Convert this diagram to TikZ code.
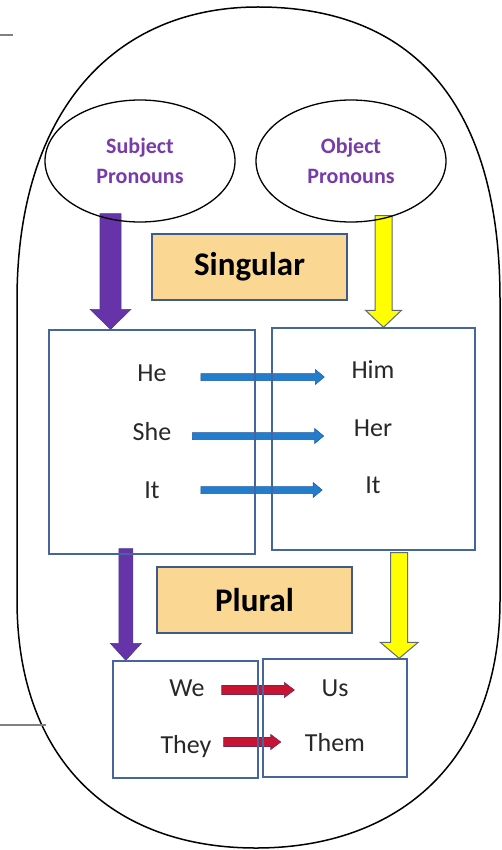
\documentclass[tikz,border=0pt]{standalone}
\usepackage{fontspec}
\setmainfont{Carlito}
\usetikzlibrary{shapes.geometric,calc,backgrounds}

\definecolor{pronpurple}{RGB}{120,60,170}
\definecolor{arrpurple}{RGB}{102,51,168}
\definecolor{arrpurpleedge}{RGB}{75,60,150}
\definecolor{arryellow}{RGB}{255,255,0}
\definecolor{arryellowedge}{RGB}{95,105,115}
\definecolor{arrblue}{RGB}{35,125,205}
\definecolor{arrblueedge}{RGB}{30,90,160}
\definecolor{arrred}{RGB}{200,20,50}
\definecolor{arrrededge}{RGB}{110,40,90}
\definecolor{boxblue}{RGB}{70,100,160}
\definecolor{headfill}{RGB}{250,216,148}
\definecolor{headedge}{RGB}{65,90,140}
\definecolor{wordgrey}{RGB}{40,40,40}

% block arrow: style, from, to, shaft half width, head half width, head length
\newcommand{\blockarrow}[6]{%
  \coordinate (ba-h) at ($(#3)!#6!(#2)$);
  \filldraw[#1] ($(#2)!#4!90:(#3)$) -- ($(ba-h)!#4!90:(#3)$) -- ($(ba-h)!#5!90:(#3)$)
    -- (#3) -- ($(ba-h)!#5!-90:(#3)$) -- ($(ba-h)!#4!-90:(#3)$) -- ($(#2)!#4!-90:(#3)$) -- cycle;}

\begin{document}
\begin{tikzpicture}[x=1pt,y=-1pt,
    pron/.style={ellipse,draw,line width=1.3pt,minimum width=190pt,minimum height=122pt,
      inner sep=0pt,text=pronpurple,align=center,font=\fontsize{22}{30}\selectfont\bfseries},
    caseframe/.style={draw=boxblue,line width=1.4pt,inner sep=0pt},
    numbox/.style={draw=headedge,line width=1.4pt,fill=headfill,inner sep=0pt,
      minimum width=195pt,minimum height=66pt,font=\fontsize{33}{40}\selectfont\bfseries},
    word/.style={text=wordgrey,text height=17pt,text depth=0pt,inner sep=0pt,
      font=\fontsize{26}{30}\selectfont},
    subjarrow/.style={fill=arrpurple,draw=arrpurpleedge,line width=0.6pt},
    objarrow/.style={fill=arryellow,draw=arryellowedge,line width=1pt},
    singarrow/.style={fill=arrblue,draw=arrblueedge,line width=0.5pt},
    plurarrow/.style={fill=arrred,draw=arrrededge,line width=0.6pt}]
\useasboundingbox (0,0) rectangle (502,850);

% outer outline
\draw[line width=1.5pt] (17,600) -- (17,300) .. controls (17,110) and (115,7) .. (258,7)
  .. controls (410,7) and (500,100) .. (500,300) -- (500,600)
  .. controls (500,760) and (400,848) .. (256,848)
  .. controls (112,848) and (17,760) .. (17,600) -- cycle;
\draw[gray,line width=1.2pt] (0,35) -- (13,35);
\draw[gray,line width=1.2pt] (0,725) -- (46,725);

% pronoun groups
\node[pron] (subj) at (140,161) {Subject\\Pronouns};
\node[pron] (obj) at (351,161) {Object\\Pronouns};

\node[numbox] (sing) at (249.5,267) {Singular};
\node[numbox] (plur) at (254.5,600) {Plural};

% singular frames
\node[caseframe,minimum width=206pt,minimum height=224pt] (subjsing) at (152,442) {};
\node[caseframe,minimum width=203pt,minimum height=222pt] (objsing) at (373.5,439) {};
\node[word] (he) at (152,373) {He};
\node[word] (she) at (152,432) {She};
\node[word] (it) at (152,490) {It};
\node[word] (him) at (373,370) {Him};
\node[word] (her) at (373,428) {Her};
\node[word] (ito) at (373,485) {It};

% plural frames
\node[caseframe,minimum width=145pt,minimum height=117pt] (subjplur) at (185.5,719.5) {};
\node[caseframe,minimum width=144pt,minimum height=118pt] (objplur) at (335,718) {};
\node[word] (we) at (187,688) {We};
\node[word] (they) at (186,745) {They};
\node[word] (us) at (335,688) {Us};
\node[word] (them) at (335,743) {Them};

\begin{scope}[on background layer]
  \coordinate (sa-s) at ($(subj.south)+(-29.5,-9)$);
  \coordinate (sa-e) at (sa-s |- subjsing.north);
  \blockarrow{subjarrow}{sa-s}{sa-e}{10.5pt}{20.5pt}{20pt}
  \coordinate (oa-s) at ($(obj.south)+(32.5,-7)$);
  \coordinate (oa-e) at (oa-s |- objsing.north);
  \blockarrow{objarrow}{oa-s}{oa-e}{8.5pt}{18pt}{17pt}
  \coordinate (sb-s) at ($(subjsing.south west)+(77.5,-6)$);
  \coordinate (sb-e) at (sb-s |- subjplur.north);
  \blockarrow{subjarrow}{sb-s}{sb-e}{7pt}{15.5pt}{17pt}
  \coordinate (ob-s) at ($(objsing.south east)+(-76.5,2)$);
  \coordinate (ob-e) at (ob-s |- objplur.north);
  \blockarrow{objarrow}{ob-s}{ob-e}{8.5pt}{19pt}{16pt}

  \coordinate (he-s) at ($(he.east)+(34,4)$);
  \coordinate (he-e) at ($(him.west |- he-s)+(-27,0)$);
  \blockarrow{singarrow}{he-s}{he-e}{3.5pt}{7.5pt}{9pt}
  \coordinate (she-s) at ($(she.east)+(21,4)$);
  \coordinate (she-e) at ($(her.west |- she-s)+(-30,0)$);
  \blockarrow{singarrow}{she-s}{she-e}{3.5pt}{7.5pt}{9pt}
  \coordinate (it-s) at ($(it.east)+(41,0)$);
  \coordinate (it-e) at ($(ito.west |- it-s)+(-43,0)$);
  \blockarrow{singarrow}{it-s}{it-e}{3.5pt}{7.5pt}{9pt}

  \coordinate (we-s) at ($(we.east)+(17,2)$);
  \coordinate (we-e) at ($(us.west |- we-s)+(-27,0)$);
  \blockarrow{plurarrow}{we-s}{we-e}{4.5pt}{7.5pt}{10pt}
  \coordinate (they-s) at ($(they.east)+(12,-3)$);
  \coordinate (they-e) at ($(them.west |- they-s)+(-24,0)$);
  \blockarrow{plurarrow}{they-s}{they-e}{4.5pt}{7.5pt}{10pt}
\end{scope}
\end{tikzpicture}
\end{document}
